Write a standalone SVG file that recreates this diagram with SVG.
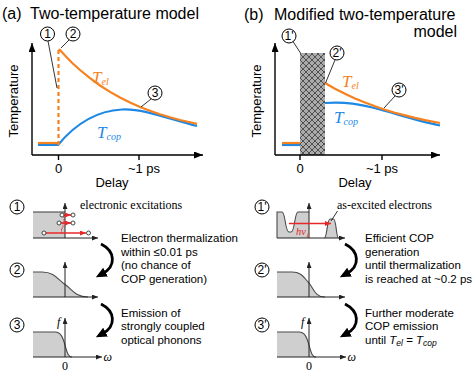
<svg xmlns="http://www.w3.org/2000/svg" width="474" height="373" viewBox="0 0 474 373">
<style>
.title{font-family:"Liberation Sans",Arial,sans-serif;font-size:16px;fill:#000}
.ax{font-family:"Liberation Sans",Arial,sans-serif;font-size:13px;fill:#000}
.txt{font-family:"Liberation Sans",Arial,sans-serif;font-size:11.5px;fill:#000}
.num{font-family:"Liberation Sans",Arial,sans-serif;font-size:12px;fill:#000;text-anchor:middle}
.ser{font-family:"Liberation Serif","Times New Roman",serif;font-size:12px;fill:#000}
.tl{font-family:"Liberation Serif","Times New Roman",serif;font-style:italic;font-size:17px}
.circ{fill:#fff;stroke:#000;stroke-width:1}
.axis{stroke:#000;stroke-width:1.4;fill:none}
.max{stroke:#222;stroke-width:1;fill:none}
.lead{stroke:#000;stroke-width:0.8;fill:none}
.or{stroke:#f5821f;stroke-width:2.2;fill:none}
.bl{stroke:#1e88e5;stroke-width:2.2;fill:none}
.fill{fill:#cfcfcf;stroke:none}
.edge{fill:none;stroke:#4a4a4a;stroke-width:1.1}
.red{stroke:#e8272a;stroke-width:1.6;fill:none}
.dot{fill:#fff;stroke:#333;stroke-width:0.9}
.big{stroke:#000;stroke-width:2.8;fill:none}
</style>
<defs>
<marker id="ah" markerUnits="userSpaceOnUse" markerWidth="10" markerHeight="8" refX="9" refY="3.5" orient="auto"><path d="M0,0L9,3.5L0,7z" fill="#000"/></marker>
<marker id="ahs" markerUnits="userSpaceOnUse" markerWidth="8" markerHeight="6" refX="6" refY="2.5" orient="auto"><path d="M0,0L6,2.5L0,5z" fill="#222"/></marker>
<marker id="ahr" markerUnits="userSpaceOnUse" markerWidth="8" markerHeight="6" refX="6" refY="2.5" orient="auto"><path d="M0,0L6,2.5L0,5z" fill="#e8272a"/></marker>
<marker id="ahb" markerUnits="userSpaceOnUse" markerWidth="13" markerHeight="11" refX="4" refY="5" orient="auto"><path d="M0,0L11,5L0,10z" fill="#000"/></marker>
<pattern id="hatch" width="6" height="6" patternUnits="userSpaceOnUse"><rect width="6" height="6" fill="#ababab"/><path d="M0,0L6,6M6,0L0,6" stroke="#3a3a3a" stroke-width="0.8"/></pattern>
</defs>

<!-- Panel (a) top -->
<g id="panel-a-plot">
<text class="title" x="2" y="18.5">(a)</text>
<text class="title" x="30" y="18.5">Two-temperature model</text>
<path class="axis" d="M32,155L32,43" marker-end="url(#ah)"/>
<path class="axis" d="M32,155L203,155" marker-end="url(#ah)"/>
<path class="axis" d="M58.5,155L58.5,160M139,155L139,160"/>
<text class="ax" x="58.5" y="173" text-anchor="middle">0</text>
<text class="ax" x="144" y="173" text-anchor="middle">~1 ps</text>
<text class="ax" x="112" y="187" text-anchor="middle">Delay</text>
<text class="ax" transform="translate(18,101) rotate(-90)" text-anchor="middle">Temperature</text>
<path class="bl" d="M38,145L58,145C72,128 92,111 122,109.5C145,108.5 170,119.5 197,126"/>
<path class="or" d="M38,143L58,143"/>
<path class="or" d="M58.5,145L58.5,50" stroke-dasharray="4,3"/>
<path class="or" d="M59,49L65,55.6L72,62.7L80,70L90,78.2L100,85.5L110,91.9L120,97.5L130,102.5L140,107L150,110.8L160,114.2L170,117.3L180,120L190,122.3L197,123.8"/>
<text class="tl" x="92" y="83" fill="#f5821f">T<tspan font-size="10" dy="1.5">el</tspan></text>
<text class="tl" x="97" y="138" fill="#1e88e5">T<tspan font-size="10" dy="2">cop</tspan></text>
</g>
<g id="a-marker1"><path class="lead" d="M48,41L57,88"/><circle class="circ" cx="47.5" cy="34" r="7"/><text class="num" x="47.5" y="38.2">1</text></g>
<g id="a-marker2"><path class="lead" d="M69,40L61,48"/><circle class="circ" cx="73" cy="34" r="7"/><text class="num" x="73" y="38.2">2</text></g>
<g id="a-marker3"><path class="lead" d="M151,99L141,107"/><circle class="circ" cx="155" cy="93" r="7"/><text class="num" x="155" y="97.2">3</text></g>

<!-- Panel (b) top -->
<g id="panel-b-plot">
<text class="title" x="244" y="19.5">(b)</text>
<text class="title" x="274" y="19.5">Modified two-temperature</text>
<text class="title" x="457" y="36.5" text-anchor="end">model</text>
<rect x="300" y="53" width="25" height="102" fill="url(#hatch)"/>
<path class="axis" d="M275,155L275,43" marker-end="url(#ah)"/>
<path class="axis" d="M275,155L440,155" marker-end="url(#ah)"/>
<path class="axis" d="M300,155L300,160M382,155L382,160"/>
<text class="ax" x="300" y="173" text-anchor="middle">0</text>
<text class="ax" x="382" y="173" text-anchor="middle">~1 ps</text>
<text class="ax" x="355" y="187" text-anchor="middle">Delay</text>
<text class="ax" transform="translate(261,101) rotate(-90)" text-anchor="middle">Temperature</text>
<path class="bl" d="M282,145L300,145"/>
<path class="or" d="M282,143L300,143"/>
<path class="bl" d="M325,103C345,101.5 360,104 380,109.5C400,115 420,121.5 440,125.5"/>
<path class="or" d="M325,83L335,88.7L345,93.8L355,98.4L365,102.6L375,106.3L385,109.7L395,112.7L405,115.4L415,117.9L425,120.1L440,123"/>
<text class="tl" x="342" y="87" fill="#f5821f">T<tspan font-size="10" dy="1.5">el</tspan></text>
<text class="tl" x="334" y="123" fill="#1e88e5">T<tspan font-size="10" dy="2">cop</tspan></text>
</g>
<g id="b-marker1"><path class="lead" d="M293,41.5L300.5,53"/><circle class="circ" cx="289" cy="36" r="7"/><text class="num" x="289" y="40.2">1'</text></g>
<g id="b-marker2"><path class="lead" d="M335,60L325.5,83"/><circle class="circ" cx="337" cy="53" r="7"/><text class="num" x="337" y="57.2">2'</text></g>
<g id="b-marker3"><path class="lead" d="M395,96L384,108"/><circle class="circ" cx="399" cy="90" r="7"/><text class="num" x="399" y="94.2">3'</text></g>

<!-- Bottom (a) -->
<g id="a-step1">
<circle class="circ" cx="17" cy="207" r="7"/><text class="num" x="17" y="211.2">1</text>
<rect class="fill" x="33" y="212" width="32" height="26"/>
<path class="edge" d="M33,212L65,212"/>
<path class="max" d="M65,238L65,203" marker-end="url(#ahs)"/>
<path class="max" d="M33,238L98,238" marker-end="url(#ahs)"/>
<path d="M61.5,233L61.5,228L63,228L63,222L64,222L64,215" stroke="#e8272a" stroke-width="0.9" stroke-dasharray="1.5,1" fill="none"/>
<path class="red" d="M45,233L86,233" marker-end="url(#ahr)"/>
<path class="red" d="M60,223L71,223" marker-end="url(#ahr)"/>
<path class="red" d="M62,215L71,215" marker-end="url(#ahr)"/>
<circle class="dot" cx="44" cy="233" r="2"/><circle class="dot" cx="88.5" cy="233" r="2"/>
<circle class="dot" cx="59" cy="223" r="2"/><circle class="dot" cx="73" cy="223" r="2"/>
<circle class="dot" cx="62" cy="215" r="2"/><circle class="dot" cx="73" cy="215" r="2"/>
<text class="ser" x="80" y="209">electronic excitations</text>
</g>
<g id="a-step2">
<circle class="circ" cx="17" cy="270" r="7"/><text class="num" x="17" y="274.2">2</text>
<path class="fill" d="M33,297L33,272L42,272C55,272 58,280 65,284.5C72,289 75,297 88,297Z"/>
<path class="edge" d="M33,272L42,272C55,272 58,280 65,284.5C72,289 75,297 88,297"/>
<path class="max" d="M65,297L65,262" marker-end="url(#ahs)"/>
<path class="max" d="M33,297L98,297" marker-end="url(#ahs)"/>
</g>
<g id="a-step3">
<circle class="circ" cx="17" cy="325" r="7"/><text class="num" x="17" y="329.2">3</text>
<path class="fill" d="M33,357L33,332L55,332C61,332 63,338 65,345C67,352 68,357 72,357Z"/>
<path class="edge" d="M33,332L55,332C61,332 63,338 65,345C67,352 68,357 72,357"/>
<path class="max" d="M65,357L65,318" marker-end="url(#ahs)"/>
<path class="max" d="M33,357L102,357" marker-end="url(#ahs)"/>
<text class="ser" x="57" y="326" font-style="italic">f</text>
<text class="ser" x="103.5" y="361" font-style="italic">ω</text>
<text class="ser" x="65" y="370" text-anchor="middle" font-size="11">0</text>
</g>
<g id="a-text">
<text class="txt" x="121" y="241.5">Electron thermalization</text>
<text class="txt" x="121" y="255.5">within ≤0.01 ps</text>
<text class="txt" x="121" y="269.2">(no chance of</text>
<text class="txt" x="121" y="283">COP generation)</text>
<text class="txt" x="121" y="316.5">Emission of</text>
<text class="txt" x="121" y="330.3">strongly coupled</text>
<text class="txt" x="121" y="344">optical phonons</text>
</g>

<!-- Bottom (b) -->
<g id="b-step1">
<circle class="circ" cx="262" cy="207" r="7"/><text class="num" x="262" y="211.2">1'</text>
<path class="fill" d="M277,238L277,212L282,212C285.5,212 285,232 289,232L291,232C295,232 294.5,212 298,212L309,212L309,238Z"/>
<path class="edge" d="M277,238L277,212L282,212C285.5,212 285,232 289,232L291,232C295,232 294.5,212 298,212L309,212"/>
<path class="fill" d="M324.5,238C327,238 327,219 330,219L333.5,219C336.5,219 336,238 338.5,238Z"/>
<path class="edge" d="M324.5,238C327,238 327,219 330,219L333.5,219C336.5,219 336,238 338.5,238"/>
<path class="max" d="M309,238L309,203" marker-end="url(#ahs)"/>
<path class="max" d="M277,238L345,238" marker-end="url(#ahs)"/>
<path class="red" d="M289,223.5L331,223.5" marker-end="url(#ahr)"/>
<text x="296" y="235" font-family="'Liberation Serif','Times New Roman',serif" font-style="italic" font-size="10.5" fill="#e8272a">hν<tspan font-size="7" dy="1.5">1</tspan></text>
<path class="lead" d="M337.5,211L331,221"/>
<text class="ser" x="337" y="209">as-excited electrons</text>
</g>
<g id="b-step2">
<circle class="circ" cx="262" cy="270" r="7"/><text class="num" x="262" y="274.2">2'</text>
<path class="fill" d="M277,297L277,272L292,272C302,272 304,278 309,283C314,289 315,297 325,297Z"/>
<path class="edge" d="M277,272L292,272C302,272 304,278 309,283C314,289 315,297 325,297"/>
<path class="max" d="M309,297L309,262" marker-end="url(#ahs)"/>
<path class="max" d="M277,297L345,297" marker-end="url(#ahs)"/>
</g>
<g id="b-step3">
<circle class="circ" cx="262" cy="325" r="7"/><text class="num" x="262" y="329.2">3'</text>
<path class="fill" d="M277,357L277,332L299,332C305,332 307,338 309,345C311,352 312,357 316,357Z"/>
<path class="edge" d="M277,332L299,332C305,332 307,338 309,345C311,352 312,357 316,357"/>
<path class="max" d="M309,357L309,318" marker-end="url(#ahs)"/>
<path class="max" d="M277,357L346,357" marker-end="url(#ahs)"/>
<text class="ser" x="301" y="326" font-style="italic">f</text>
<text class="ser" x="347.5" y="361" font-style="italic">ω</text>
<text class="ser" x="309" y="370" text-anchor="middle" font-size="11">0</text>
</g>
<g id="b-text">
<text class="txt" x="365" y="241.5">Efficient COP</text>
<text class="txt" x="365" y="255.5">generation</text>
<text class="txt" x="365" y="269.2">until thermalization</text>
<text class="txt" x="365" y="283">is reached at ~0.2 ps</text>
<text class="txt" x="365" y="316.5">Further moderate</text>
<text class="txt" x="365" y="330.3">COP emission</text>
<text class="txt" x="365" y="344">until <tspan font-style="italic">T</tspan><tspan font-style="italic" font-size="8.5" dy="1.5">el</tspan><tspan dy="-1.5"> = </tspan><tspan font-style="italic">T</tspan><tspan font-style="italic" font-size="8.5" dy="1.5">cop</tspan></text>
</g>

<!-- connectors -->
<g id="connectors">
<path class="big" d="M101,244C115,251 117,266 102,274" marker-end="url(#ahb)"/>
<path class="big" d="M101,304C115,311 117,326 102,334" marker-end="url(#ahb)"/>
<path class="big" d="M345,244C359,251 361,266 346,274" marker-end="url(#ahb)"/>
<path class="big" d="M345,304C359,311 361,326 346,334" marker-end="url(#ahb)"/>
</g>
</svg>
